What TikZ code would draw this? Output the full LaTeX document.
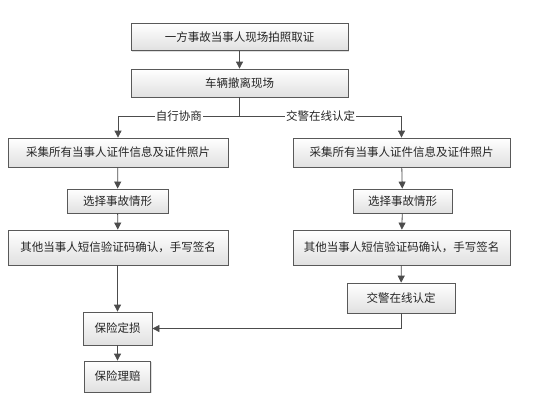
\documentclass[tikz,border=0pt]{standalone}
\usepackage{fontspec}
\newfontfamily\cjk{Noto Sans CJK SC}
\usetikzlibrary{arrows.meta,shadows}
\begin{document}
\begin{tikzpicture}[x=1pt,y=-1pt,
  box/.style={draw=black!65, line width=0.8pt, top color=white, bottom color=black!12,
    drop shadow={shadow xshift=1.2pt, shadow yshift=-1.2pt, fill=black!25},
    inner sep=0pt, font=\cjk\fontsize{11.5}{12}\selectfont, text=black!85},
  conn/.style={draw=black!70, line width=0.8pt},
  arr/.style={conn, -{Triangle[width=7pt,length=7pt]}},
  lbl/.style={fill=white, inner sep=1pt, font=\cjk\fontsize{11.5}{12}\selectfont, text=black!85}]
\useasboundingbox (0,0) rectangle (545,416);
\fill[white] (0,0) rectangle (545,416);
% boxes
\node[box, minimum width=217pt, minimum height=27pt] (a) at (239.5,37) {一方事故当事人现场拍照取证};
\node[box, minimum width=217pt, minimum height=28pt] (b) at (239.5,83) {车辆撤离现场};
\node[box, minimum width=220pt, minimum height=29pt] (l1) at (118,152.5) {采集所有当事人证件信息及证件照片};
\node[box, minimum width=101pt, minimum height=24pt] (l2) at (117.5,201) {选择事故情形};
\node[box, minimum width=220pt, minimum height=35pt] (l3) at (118,247.5) {其他当事人短信验证码确认，手写签名};
\node[box, minimum width=217pt, minimum height=29pt] (r1) at (401.5,152.5) {采集所有当事人证件信息及证件照片};
\node[box, minimum width=99pt, minimum height=24pt] (r2) at (402.5,201) {选择事故情形};
\node[box, minimum width=217pt, minimum height=35pt] (r3) at (401.5,247.5) {其他当事人短信验证码确认，手写签名};
\node[box, minimum width=108pt, minimum height=30pt] (r4) at (401,298) {交警在线认定};
\node[box, minimum width=69pt, minimum height=33pt] (p1) at (117.5,328.5) {保险定损};
\node[box, minimum width=66pt, minimum height=31pt] (p2) at (117.5,376.5) {保险理赔};
% connectors
\draw[arr] (a) -- (b);
\coordinate (bm) at (b.south |- 0,116);
\coordinate (lt) at (l1.north |- 0,116);
\coordinate (rt) at (r1.north |- 0,116);
\draw[conn] (b.south) -- (bm);
\draw[arr] (bm) -- node[lbl, pos=0.5] {自行协商} (lt) -- (l1.north);
\draw[arr] (bm) -- node[lbl, pos=0.5] {交警在线认定} (rt) -- (r1.north);
\draw[arr] (l1) -- (l2);
\draw[arr] (l2) -- (l3);
\draw[arr] (r1) -- (r2);
\draw[arr] (r2) -- (r3);
\draw[arr] (r3) -- (r4);
\draw[arr] (l3.south -| p1.north) -- (p1.north);
\coordinate (rc) at (r4.south |- p1.east);
\draw[arr] (r4.south) -- (rc) -- (p1.east);
\draw[arr] (p1) -- (p2);
\end{tikzpicture}
\end{document}
